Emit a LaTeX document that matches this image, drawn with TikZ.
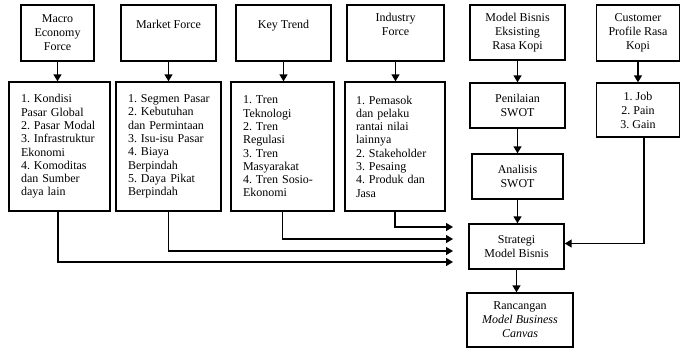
\documentclass[tikz,border=0pt]{standalone}
\usepackage{fontspec}
\setmainfont{Liberation Serif}
\usetikzlibrary{arrows.meta,calc}
\begin{document}
\frenchspacing
\begin{tikzpicture}[x=1pt,y=-1pt,
  every node/.style={font=\fontsize{12}{14}\selectfont\frenchspacing},
  box/.style={draw,line width=1.4pt,inner sep=0pt,align=center},
  listbox/.style={draw,line width=1.4pt,inner ysep=0pt,align=left,font=\fontsize{12}{13.3}\selectfont\frenchspacing},
  arr/.style={line width=1.4pt,-{Triangle[length=7pt,width=8pt]}}]
\useasboundingbox (0,0) rectangle (681,349);
% top boxes
\node[box,minimum width=73pt,minimum height=56pt] (t1) at (57.5,33) {Macro\\Economy\\Force};
\node[box,minimum width=95pt,minimum height=56pt] (t2) at (168.5,33) {Market Force\\\strut};
\node[box,minimum width=95pt,minimum height=56pt] (t3) at (283.5,33) {Key Trend\\\strut};
\node[box,minimum width=97pt,minimum height=56pt] (t4) at (395.5,33) {Industry\\Force\\\strut};
\node[box,minimum width=95pt,minimum height=55pt] (t5) at (517.5,32.5) {Model Bisnis\\Eksisting\\Rasa Kopi};
\node[box,minimum width=83pt,minimum height=56pt] (t6) at (638,33) {Customer\\Profile Rasa\\Kopi};
% list boxes
\node[listbox,inner xsep=12pt,text width=77pt,minimum height=129pt] (l1) at (59.5,146.5)
 {1. Kondisi\\Pasar Global\\2. Pasar Modal\\3. Infrastruktur\\Ekonomi\\4. Komoditas\\dan Sumber\\daya lain};
\node[listbox,inner xsep=12pt,text width=81pt,minimum height=129pt] (l2) at (168.5,146.5)
 {\mbox{1. Segmen Pasar}\\2. Kebutuhan\\dan Permintaan\\\mbox{3. Isu-isu Pasar}\\4. Biaya\\Berpindah\\5. Daya Pikat\\Berpindah};
\node[listbox,inner xsep=12pt,text width=79pt,minimum height=129pt] (l3) at (282.5,146.5)
 {1. Tren\\Teknologi\\2. Tren\\Regulasi\\3. Tren\\Masyarakat\\4. Tren Sosio-\\Ekonomi};
\node[listbox,inner xsep=11pt,text width=78pt,minimum height=129pt] (l4) at (395,146.5)
 {1. Pemasok\\dan pelaku\\rantai nilai\\lainnya\\2. Stakeholder\\3. Pesaing\\4. Produk dan\\Jasa\\[5pt]};
\node[box,minimum width=95pt,minimum height=45pt] (pen) at (517.5,105.5) {Penilaian\\SWOT};
\node[box,minimum width=91pt,minimum height=45pt] (ana) at (517.5,176.5) {Analisis\\SWOT};
\node[box,minimum width=83pt,minimum height=54pt] (l6) at (638,110) {1. Job\\2. Pain\\3. Gain};
\node[box,minimum width=95pt,minimum height=45pt] (str) at (516.5,246.5) {Strategi\\Model Bisnis};
\node[box,minimum width=106pt,minimum height=54pt] (ran) at (520,320) {Rancangan\\\textit{Model Business}\\\textit{Canvas}};
% free ends
\coordinate (e1) at (453,262);
\coordinate (e2) at (453,251);
\coordinate (e3) at (453,239);
\coordinate (e4) at (453,227);
% arrows
\foreach \a/\b in {t1/l1,t2/l2,t3/l3,t4/l4,t6/l6}
  \draw[arr] (\a.south) -- (\a.south |- \b.north);
\draw[arr] (t5.south) -- (pen.north);
\draw[arr] (pen.south) -- (ana.north);
\draw[arr] (ana.south) -- (ana.south |- str.north);
\draw[arr] (str.south) -- (str.south |- ran.north);
\draw[arr] ([xshift=-1.5pt]l1.south) |- (e1);
\draw[arr] (l2.south) |- (e2);
\draw[arr] (l3.south) |- (e3);
\draw[arr] (l4.south) |- (e4);
\draw[arr] ([xshift=6pt]l6.south) |- ([yshift=3pt]str.east);
\end{tikzpicture}
\end{document}
